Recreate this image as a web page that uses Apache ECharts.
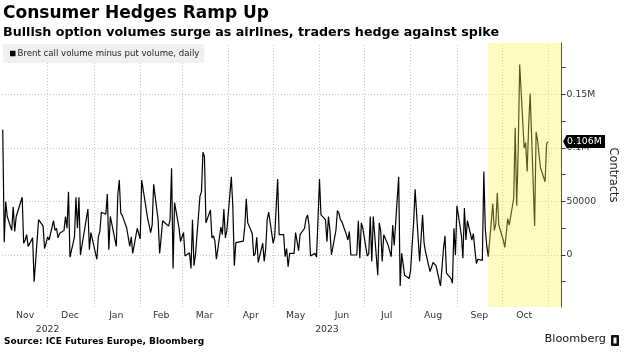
<!DOCTYPE html>
<html>
<head>
<meta charset="utf-8">
<style>
html,body{margin:0;padding:0;background:#fff;}
#chart{width:626px;height:356px;}
</style>
<script src="https://cdn.jsdelivr.net/npm/echarts@6.0.0/dist/echarts.min.js"></script>
</head>
<body>
<div id="chart"></div>
<script>
// ---------------- DATA ----------------
const seriesName = 'Brent call volume minus put volume, daily';
const firstDay = '2022-11-01';
const exchangeHolidays = ['2022-12-26', '2022-12-27', '2023-01-02', '2023-04-07', '2023-04-10'];

const nov2022 = [117000, 12000, 50000, 36000, 23000, 45000, 22000, 36000, 37500, 54000, 11000, 14000, 19000, 8000, 16000, -25000, -6000, -5000, 33000, 27000, 6000, 11000];
const dec2022 = [17000, 14000, 32000, 23000, 25000, 16000, 20000, 23000, 36000, 25000, 59000, -2000, 17000, 54000, 25000, 54000, 0, 43000, 5000, 21000];
const jan2023 = [-4000, 17000, 22000, 40000, 38000, 57000, 5000, 36000, 36000, 8000, 56000, 70000, 39000, 37000, 25000, 25000, 8000, 17000, 1500, 25000, 25000];
const feb2023 = [15000, 70000, 70000, 34000, 28000, 21000, 28000, 66000, 33000, 1500, 16000, 32000, 31000, 27000, 33000, 81000, -12500, 49000, 25000, 12500];
const mar2023 = [17000, 21000, -1000, 2000, -12500, 33000, -10000, 0, 55000, 59000, 96000, 92000, 30000, 42000, 16000, 18000, 13000, -4000, 26000, 19000, 43000, 16000, 23000];
const apr2023 = [73000, 45000, -10000, 11500, 13000, 26500, 52500, 30000, 20000, -1000, 1500, 16500, -7000, 11000, -6000, 6000, 33000, 40000];
const may2023 = [11000, 17000, 44000, 71000, 19000, 19000, -1500, 6000, -11000, 1500, 1500, 21000, 22000, 4000, 19000, 25000, 34000, 37500, 28000, -1000, 1500, -2000, 33000];
const jun2023 = [71000, 37500, 33000, 12500, 36000, 23000, 0, 23000, 41500, 39000, 33000, 31000, 19000, 14000, 22000, 0, 1500, 0, 32000, -3000, 30000, 25000];
const jul2023 = [-1000, 1500, 36000, -6000, 36000, -19000, 30000, 22000, -6000, 19000, 9000, 8000, -1500, 28000, 9000, 73000, -29000, 1500, 3000, -19000, -22000];
const aug2023 = [-14000, 9000, 30000, 61500, -6000, -7000, 37500, 11000, 3000, -15600, -17000, -7000, -8000, -10000, -29000, -12000, 6000, 18000, -17000, -22000, -26500, 25000, 0];
const sep2023 = [46000, 18000, -3000, 44000, 14000, 32000, 14000, 20000, 5000, -8000, -4000, -5000, 78000, 24000, 8000, -1500, 48000, 23000, 29000, 58000, 28000];
const oct2023 = [14000, 7000, 20000, 34000, 28000, 53000, 119000, 46000, 98000, 178000, 100000, 105000, 78000, 121000, 151000, 27000, 115000, 107000, 93000, 81000, 68500, 104000, 106000];

const monthLabels = ['Nov', 'Dec', 'Jan', 'Feb', 'Mar', 'Apr', 'May', 'Jun', 'Jul', 'Aug', 'Sep', 'Oct'];
const monthLabelDates = ['2022-11-16', '2022-12-16', '2023-01-16', '2023-02-15', '2023-03-16', '2023-04-16', '2023-05-16', '2023-06-16', '2023-07-16', '2023-08-16', '2023-09-16', '2023-10-16'];
const monthStarts = ['2022-12-01', '2023-01-01', '2023-02-01', '2023-03-01', '2023-04-01', '2023-05-01', '2023-06-01', '2023-07-01', '2023-08-01', '2023-09-01', '2023-10-01', '2023-11-01'];
const yearLabels = ['2022', '2023'];
const yearLabelDates = ['2022-12-01', '2023-06-06'];
const yLabelValues = [0, 50000, 100000, 150000];
const yLabelTexts = ['0', '50000', '0.1M', '0.15M'];
const yTickValues = [-25000, 0, 25000, 50000, 75000, 100000, 125000, 150000, 175000];
const highlightStart = '2023-09-22';
const axisStart = '2022-10-31T12:00:00Z';
const axisEnd = '2023-11-10';

// ---------------- BUILD ----------------
const values = [].concat(nov2022, dec2022, jan2023, feb2023, mar2023, apr2023, may2023, jun2023, jul2023, aug2023, sep2023, oct2023);

function tradingDays(start, n, skip) {
  const out = [];
  const d = new Date(start + 'T00:00:00Z');
  while (out.length < n) {
    const dow = d.getUTCDay();
    const s = d.toISOString().slice(0, 10);
    if (dow !== 0 && dow !== 6 && skip.indexOf(s) < 0) out.push(s);
    d.setUTCDate(d.getUTCDate() + 1);
  }
  return out;
}
const dates = tradingDays(firstDay, values.length, exchangeHolidays);
const ts = s => Date.parse(s.length === 10 ? s + 'T00:00:00Z' : s);
const seriesData = values.map((v, i) => [ts(dates[i]), v]);

const tMin = ts(axisStart);
const tMax = ts(axisEnd);
const monthLabelTs = monthLabelDates.map(ts);
const yearLabelTs = yearLabelDates.map(ts);

const FONT = 'DejaVu Sans';
const chart = echarts.init(document.getElementById('chart'), null, {renderer: 'canvas'});

const option = {
  animation: false,
  backgroundColor: '#fff',
  legend: {
    data: [seriesName],
    left: 3, top: 44,
    padding: [5, 5, 5, 7],
    backgroundColor: '#f0f0f0',
    borderRadius: 2,
    itemWidth: 5.5, itemHeight: 5.5,
    icon: 'rect',
    selectedMode: false,
    textStyle: {fontFamily: FONT, fontSize: 8.6, color: '#222', padding: [0, 0, 0, -3]}
  },
  grid: {left: 2, right: 64, top: 43, height: 264, containLabel: false},
  xAxis: [
    {
      type: 'value', min: tMin, max: tMax, scale: true,
      axisLine: {show: false}, axisTick: {show: false}, splitLine: {show: false},
      axisLabel: {
        customValues: monthLabelTs,
        formatter: v => monthLabels[monthLabelTs.indexOf(v)] || '',
        margin: 4, fontFamily: FONT, fontSize: 9.3, color: '#333', hideOverlap: false
      }
    },
    {
      type: 'value', min: tMin, max: tMax, scale: true, position: 'bottom', offset: 14,
      axisLine: {show: false}, axisTick: {show: false}, splitLine: {show: false},
      axisLabel: {
        customValues: yearLabelTs,
        formatter: v => yearLabels[yearLabelTs.indexOf(v)] || '',
        margin: 4, fontFamily: FONT, fontSize: 9.3, color: '#333', hideOverlap: false
      }
    }
  ],
  yAxis: {
    type: 'value', position: 'right', min: -48600, max: 198100,
    axisLine: {show: true, lineStyle: {color: '#333', width: 1}},
    axisTick: {show: true, customValues: yTickValues, length: 4, inside: false, lineStyle: {color: '#333'}},
    axisLabel: {
      customValues: yLabelValues,
      formatter: v => yLabelTexts[yLabelValues.indexOf(v)],
      margin: 5, fontFamily: FONT, fontSize: 9.3, color: '#333'
    },
    splitLine: {show: false},
    name: 'Contracts', nameLocation: 'middle', nameRotate: -90, nameGap: 44,
    nameTextStyle: {fontFamily: FONT, fontSize: 11.4, color: '#222'}
  },
  series: [
    {
      name: 'gridlines', type: 'line', data: [], z: 1, silent: true,
      markLine: {
        z: 1,
        silent: true, symbol: ['none', 'none'], label: {show: false}, animation: false,
        lineStyle: {color: '#c4c4c4', type: [1, 2], width: 1},
        emphasis: {disabled: true},
        data: yLabelValues.map(v => ({yAxis: v})).concat(monthStarts.map(d => ({xAxis: ts(d)})))
      }
    },
    {
      name: seriesName, type: 'line', data: seriesData, z: 3,
      symbol: 'none', showSymbol: false,
      lineStyle: {color: '#000', width: 1.2},
      itemStyle: {color: '#000'},
      emphasis: {disabled: true}
    },
    {
      name: 'highlight', type: 'line', data: [], z: 10, silent: true,
      markArea: {
        z: 10,
        silent: true,
        itemStyle: {color: 'rgba(255,240,80,0.36)'},
        data: [[{xAxis: ts(highlightStart)}, {xAxis: tMax}]]
      }
    }
  ]
};
chart.setOption(option);

// Titles, source, end-value tag and logo placed as graphics
const lastVal = values[values.length - 1];
const tagY = chart.convertToPixel({yAxisIndex: 0}, lastVal);
const axisX = chart.convertToPixel({xAxisIndex: 0}, tMax);
const tagText = (lastVal / 1e6).toFixed(3) + 'M';

chart.setOption({
  graphic: [
    {type: 'text', left: 3, top: 5, style: {text: 'Consumer Hedges Ramp Up', font: 'bold 17px "DejaVu Sans"', fill: '#000'}},
    {type: 'text', left: 3, top: 26, style: {text: 'Bullish option volumes surge as airlines, traders hedge against spike', font: 'bold 12.7px "DejaVu Sans"', fill: '#000'}},
    {type: 'text', left: 4, top: 337, style: {text: 'Source: ICE Futures Europe, Bloomberg', font: 'bold 9px "DejaVu Sans"', fill: '#000'}},
    {type: 'text', right: 20, top: 334, style: {text: 'Bloomberg', font: '11.3px "DejaVu Sans"', fill: '#111'}},
    {type: 'rect', shape: {x: 611, y: 335, width: 8, height: 11, r: 1}, style: {fill: '#111'}},
    {type: 'rect', shape: {x: 613.5, y: 337.5, width: 3, height: 6}, style: {fill: '#fff'}},
    {
      type: 'polygon', z: 100,
      shape: {points: [[axisX + 1.5, tagY], [axisX + 5, tagY - 6.5], [axisX + 43.5, tagY - 6.5], [axisX + 43.5, tagY + 6.5], [axisX + 5, tagY + 6.5]]},
      style: {fill: '#000'}
    },
    {type: 'text', z: 101, x: axisX + 5.5, y: tagY, style: {text: tagText, font: '9.3px "DejaVu Sans"', fill: '#fff', textVerticalAlign: 'middle'}}
  ]
});
</script>
</body>
</html>
